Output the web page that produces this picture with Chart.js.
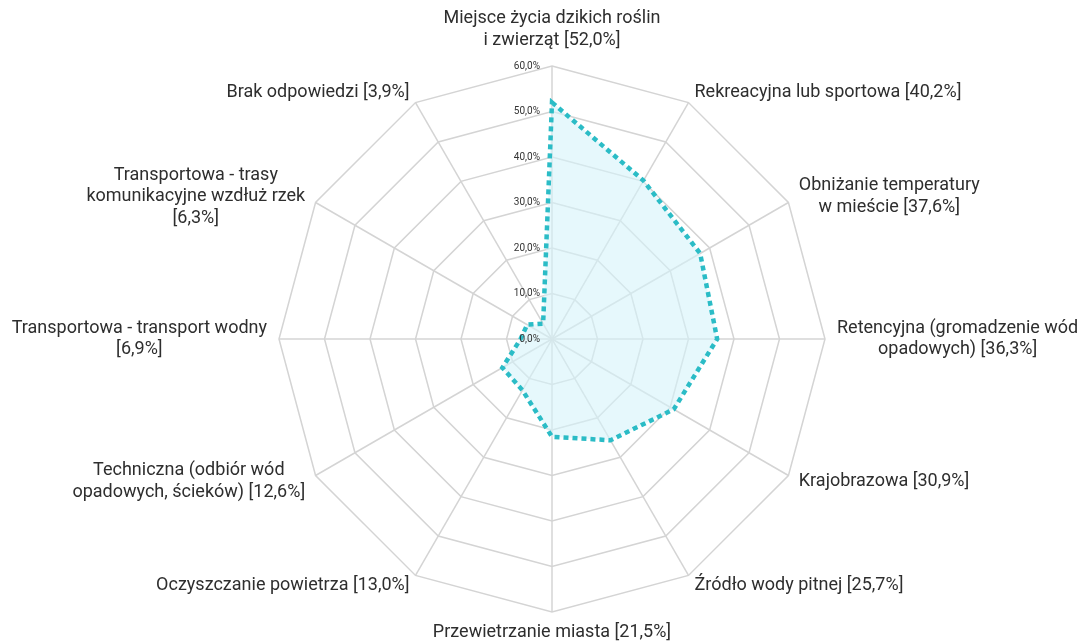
<!DOCTYPE html>
<html>
<head>
<meta charset="utf-8">
<script src="https://cdn.jsdelivr.net/npm/chart.js@4"></script>
<style>
  html, body { margin: 0; padding: 0; background: #fff; }
  #wrap { width: 1084px; height: 644px; }
</style>
</head>
<body>
<div id="wrap"><canvas id="radarChart"></canvas></div>
<script>
// Kategorie (linie etykiet) i wartości w %
const categories = [
    ['Miejsce życia dzikich roślin', 'i zwierząt [52,0%]'],
    ['Rekreacyjna lub sportowa [40,2%]'],
    ['Obniżanie temperatury', 'w mieście [37,6%]'],
    ['Retencyjna (gromadzenie wód', 'opadowych) [36,3%]'],
    ['Krajobrazowa [30,9%]'],
    ['Źródło wody pitnej [25,7%]'],
    ['Przewietrzanie miasta [21,5%]'],
    ['Oczyszczanie powietrza [13,0%]'],
    ['Techniczna (odbiór wód', 'opadowych, ścieków) [12,6%]'],
    ['Transportowa - transport wodny', '[6,9%]'],
    ['Transportowa - trasy', 'komunikacyjne wzdłuż rzek', '[6,3%]'],
    ['Brak odpowiedzi [3,9%]']
];
const values = [52.0, 40.2, 37.6, 36.3, 30.9, 25.7, 21.5, 13.0, 12.6, 6.9, 6.3, 3.9];
const tickValues = [0, 10, 20, 30, 40, 50, 60];
const tickLabels = ['0,0%', '10,0%', '20,0%', '30,0%', '40,0%', '50,0%', '60,0%'];

const LABEL_SIZE = 18;
const LINE_H = 21.5;

// etykiety kategorii (linie wyśrodkowane) i podziałka z 0,0%
const customLabels = {
    id: 'customLabels',
    afterDraw(chart) {
        const ctx = chart.ctx;
        const scale = chart.scales.r;
        const r = scale.drawingArea;
        ctx.save();
        ctx.fillStyle = '#2e2e2e';
        ctx.font = LABEL_SIZE + 'px Roboto';
        ctx.textAlign = 'center';
        ctx.textBaseline = 'middle';
        categories.forEach((lines, i) => {
            const n = categories.length;
            const deg = Math.round(i * 360 / n);
            const w = Math.max(...lines.map(l => ctx.measureText(l).width));
            const h = lines.length * LINE_H;
            let cx, top;
            if (deg === 0) {
                const p = scale.getPointPosition(i, r);
                cx = p.x;
                top = p.y - 15 - h;
            } else if (deg === 180) {
                const p = scale.getPointPosition(i, r);
                cx = p.x;
                top = p.y + 10;
            } else {
                const p = scale.getPointPosition(i, r + 12);
                cx = deg < 180 ? p.x + w / 2 : p.x - w / 2;
                top = p.y - h / 2;
            }
            lines.forEach((ln, j) => {
                ctx.fillText(ln, cx, top + j * LINE_H + LINE_H / 2);
            });
        });

        ctx.fillStyle = '#333';
        ctx.font = '10px Roboto';
        ctx.textAlign = 'right';
        tickValues.forEach((v, i) => {
            const d = scale.getDistanceFromCenterForValue(v);
            ctx.fillText(tickLabels[i], scale.xCenter - 12, scale.yCenter - d);
        });
        ctx.restore();
    }
};

new Chart(document.getElementById('radarChart'), {
    type: 'radar',
    data: {
        labels: categories,
        datasets: [{
            data: values,
            borderColor: '#2bbcc6',
            backgroundColor: 'rgba(214, 244, 250, 0.6)',
            borderWidth: 4.5,
            borderDash: [5, 4],
            fill: true,
            pointRadius: 0,
            tension: 0
        }]
    },
    options: {
        responsive: true,
        maintainAspectRatio: false,
        animation: false,
        plugins: {
            legend: { display: false },
            tooltip: { enabled: false }
        },
        layout: { padding: { top: 66, bottom: 32, left: 20, right: 0 } },
        scales: {
            r: {
                min: 0,
                max: 60,
                ticks: { stepSize: 10, display: false },
                grid: { color: '#d4d4d4', lineWidth: 1.5 },
                angleLines: { color: '#d4d4d4', lineWidth: 1.5 },
                pointLabels: { display: false }
            }
        }
    },
    plugins: [customLabels]
});
</script>
</body>
</html>
